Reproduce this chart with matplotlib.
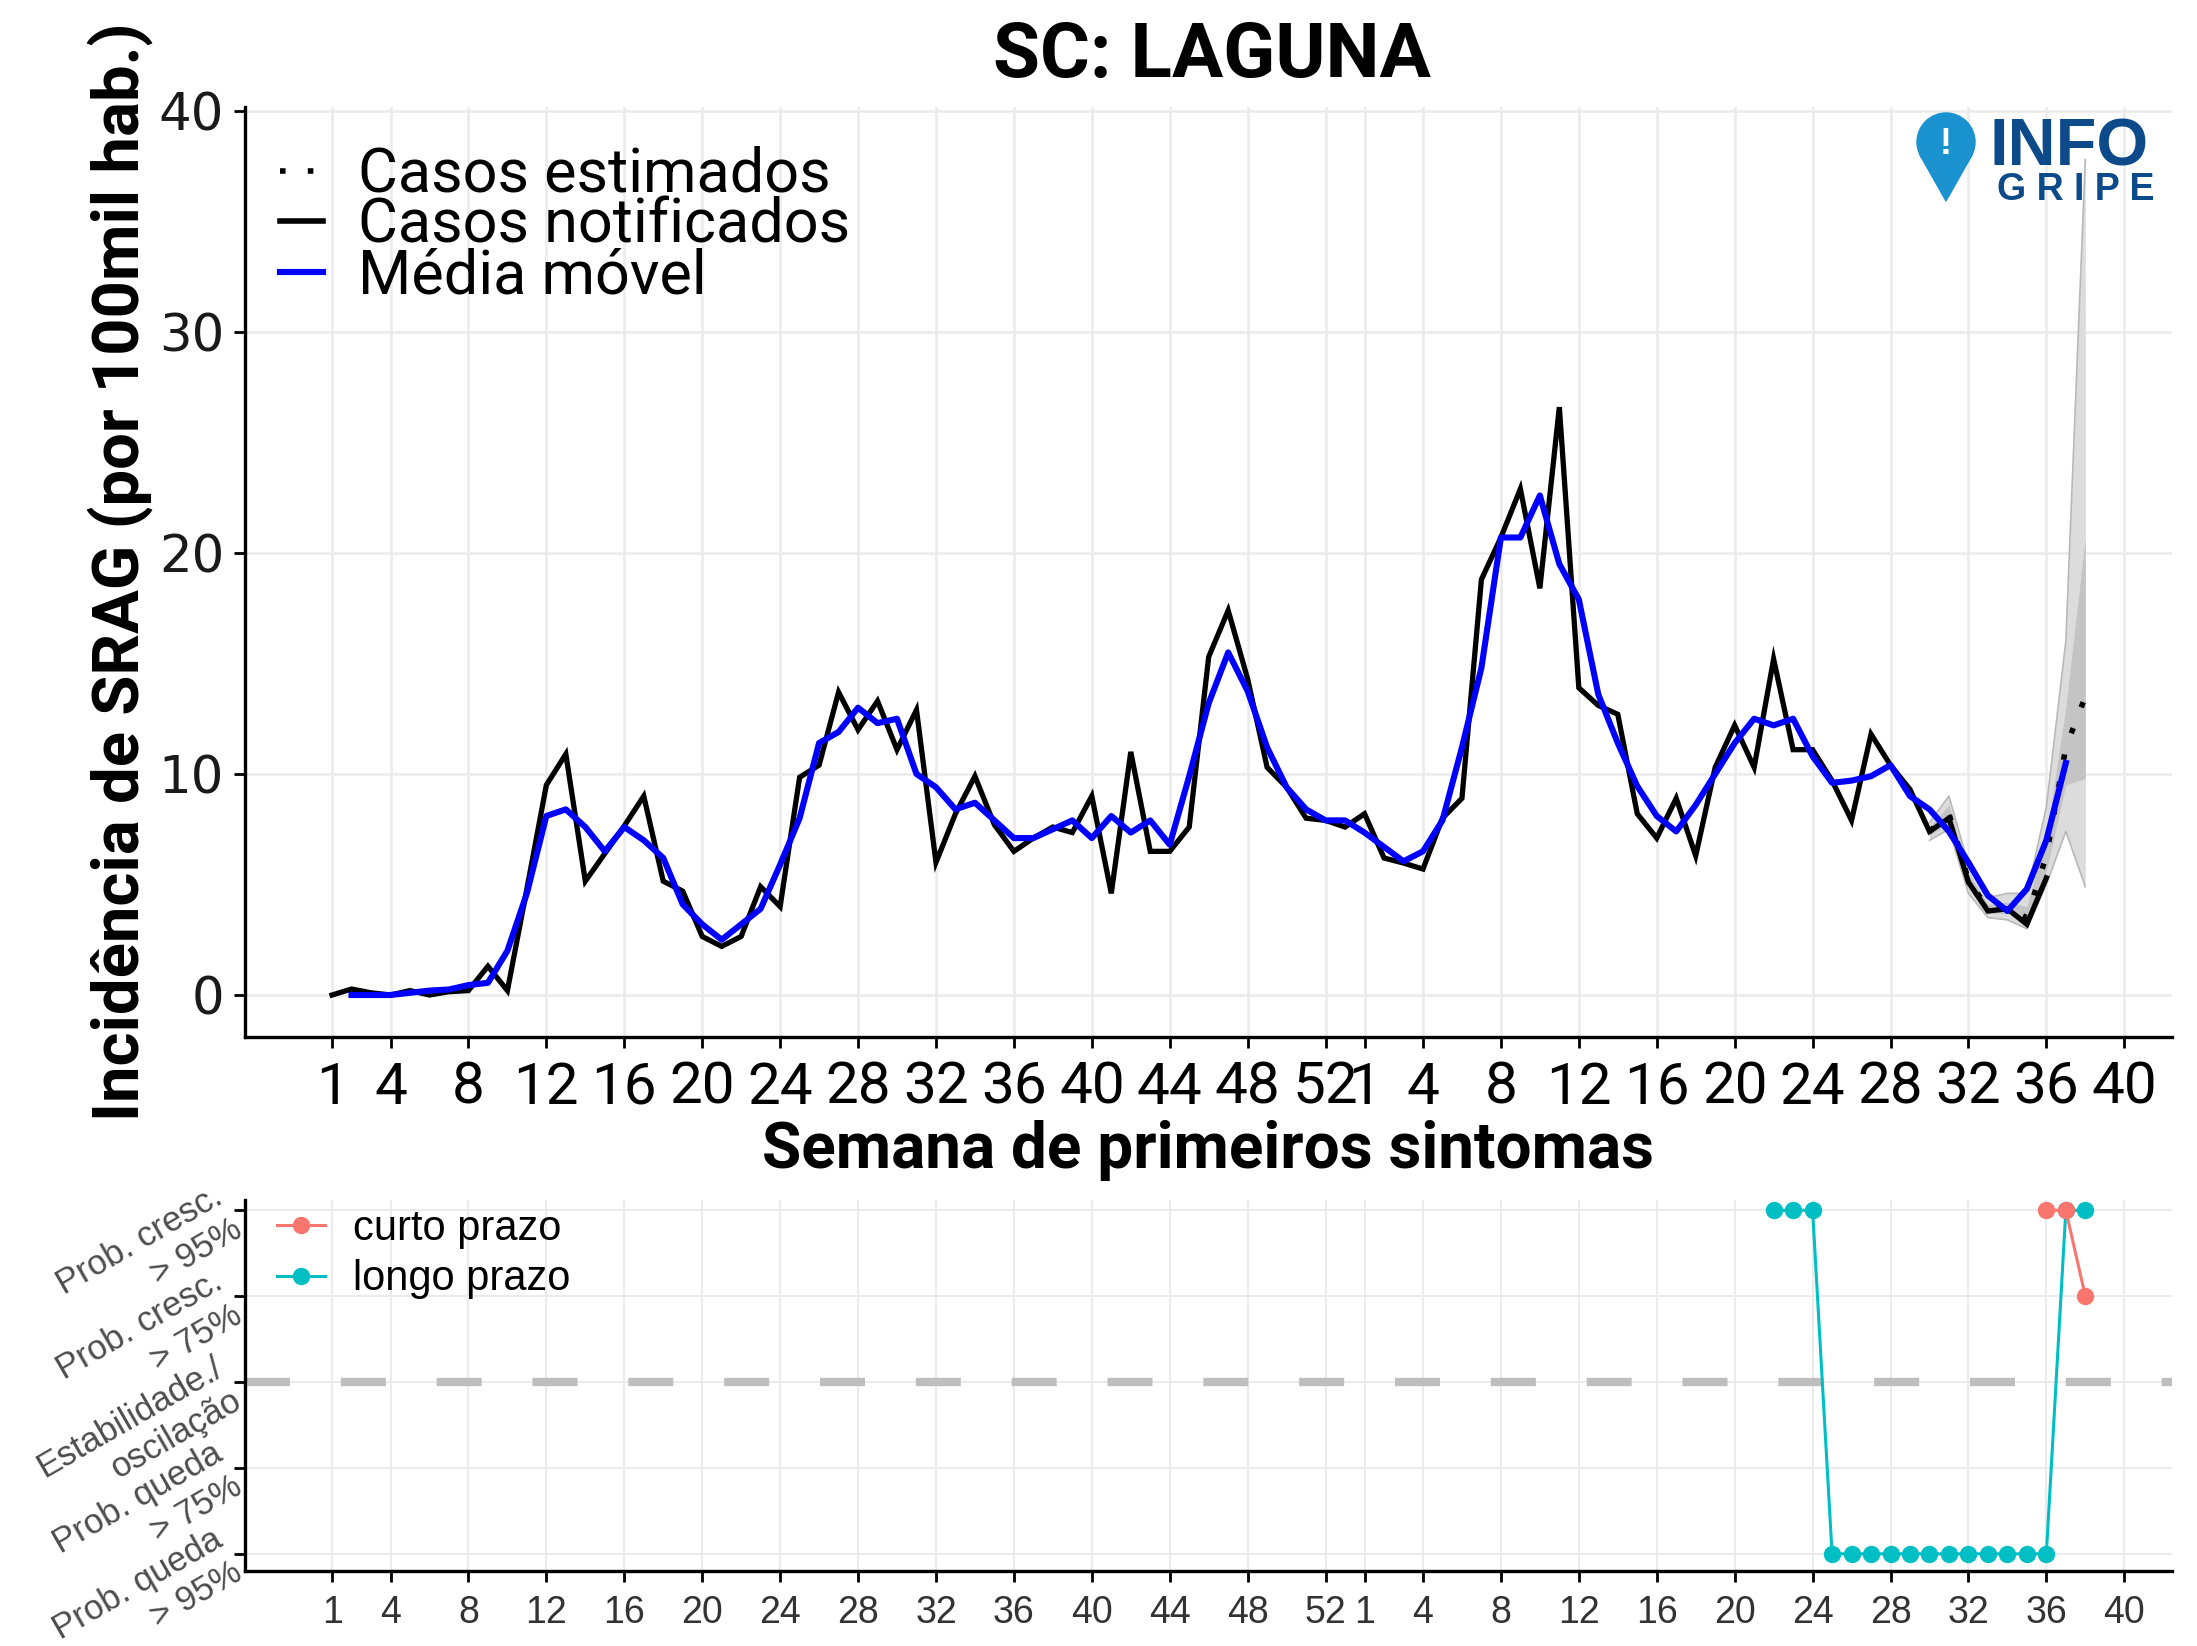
import matplotlib
matplotlib.use("Agg")
import matplotlib.pyplot as plt
from matplotlib.lines import Line2D
from matplotlib.patches import Circle, Polygon

W, H, DPI = 2197, 1646, 100

# ── DATA ──────────────────────────────────────────────────────────────────────
# week index: 1..53 -> weeks of the first year, 54.. -> second year (week = idx - 53)
sem_notif = list(range(1, 90))
casos_notif = [
    0.0, 0.27, 0.1, 0.0, 0.2, 0.0, 0.15, 0.2, 1.3, 0.2,
    4.8, 9.5, 10.9, 5.15, 6.4, 7.65, 9.0, 5.15, 4.7, 2.65,
    2.2, 2.65, 4.9, 4.0, 9.85, 10.4, 13.7, 12.0, 13.3, 11.1,
    12.9, 6.0, 8.2, 9.9, 7.7, 6.5, 7.1, 7.6, 7.35, 9.0,
    4.6, 11.0, 6.5, 6.5, 7.6, 15.3, 17.4, 14.3, 10.3, 9.4,
    8.0, 7.9, 7.6, 8.2, 6.2, 5.97, 5.7, 8.0, 8.9, 18.8,
    20.7, 22.9, 18.4, 26.6, 13.9, 13.1, 12.7, 8.2, 7.1, 8.9,
    6.3, 10.3, 12.2, 10.3, 15.2, 11.1, 11.1, 9.7, 7.9, 11.8,
    10.4, 9.3, 7.4, 8.0, 5.1, 3.8, 3.9, 3.2, 5.3,
]

sem_media = list(range(2, 91))
media_movel = [
    0.0, 0.0, 0.0, 0.1, 0.2, 0.25, 0.45, 0.55, 2.0,
    4.6, 8.1, 8.4, 7.6, 6.5, 7.6, 7.0, 6.2, 4.1, 3.2,
    2.5, 3.2, 3.9, 5.9, 8.0, 11.4, 11.9, 13.0, 12.3, 12.5,
    10.0, 9.4, 8.4, 8.7, 7.9, 7.1, 7.1, 7.5, 7.9, 7.1,
    8.1, 7.35, 7.9, 6.8, 9.9, 13.2, 15.5, 13.75, 11.2, 9.4,
    8.4, 7.9, 7.9, 7.35, 6.7, 6.05, 6.5, 7.9, 11.2, 14.8,
    20.7, 20.7, 22.6, 19.5, 17.9, 13.6, 11.4, 9.45, 8.1, 7.4,
    8.6, 10.0, 11.4, 12.5, 12.2, 12.5, 10.8, 9.6, 9.7, 9.9,
    10.4, 9.0, 8.4, 7.4, 6.0, 4.5, 3.8, 4.8, 7.0, 10.5,
]

sem_est = list(range(83, 92))
casos_est = [7.4, 8.2, 5.2, 3.9, 3.9, 3.5, 6.3, 11.2, 13.5]
ic95_inf = [7.0, 7.5, 4.6, 3.5, 3.4, 3.0, 5.0, 7.4, 4.9]
ic95_sup = [7.8, 9.0, 5.9, 4.4, 4.6, 4.6, 8.5, 16.0, 37.8]
ic50_inf = [7.2, 7.8, 4.9, 3.7, 3.7, 3.2, 5.6, 9.5, 9.8]
ic50_sup = [7.6, 8.6, 5.5, 4.1, 4.2, 4.0, 7.2, 13.0, 20.7]

tick_pos = [1, 4, 8, 12, 16, 20, 24, 28, 32, 36, 40, 44, 48, 52,
            54, 57, 61, 65, 69, 73, 77, 81, 85, 89, 93]
tick_lab = ["1", "4", "8", "12", "16", "20", "24", "28", "32", "36", "40", "44", "48", "52",
            "1", "4", "8", "12", "16", "20", "24", "28", "32", "36", "40"]

niveis = [2, 1, 0, -1, -2]
niveis_lab = ["Prob. cresc.\n> 95%", "Prob. cresc.\n> 75%", "Estabilidade./\noscilação",
              "Prob. queda\n> 75%", "Prob. queda\n> 95%"]

sem_longo = [75, 76, 77, 78, 79, 80, 81, 82, 83, 84, 85, 86, 87, 88, 89, 90, 91]
tend_longo = [2, 2, 2, -2, -2, -2, -2, -2, -2, -2, -2, -2, -2, -2, -2, 2, 2]
sem_curto = [89, 90, 91]
tend_curto = [2, 2, 1]

# ── STYLE ─────────────────────────────────────────────────────────────────────
c_grid = "#EBEBEB"
c_curto = "#F8766D"
c_longo = "#00BFC4"
XLIM = (-3.47, 95.45)


def px(x, y):
    """pixel (from top-left) -> figure fraction"""
    return x / W, 1 - y / H


fig = plt.figure(figsize=(W / DPI, H / DPI), dpi=DPI)

# ── TOP PANEL: incidence ─────────────────────────────────────────────────────
x0, y0 = px(245, 1037)
x1, y1 = px(2172, 106.5)
ax1 = fig.add_axes([x0, y0, x1 - x0, y1 - y0])
ax1.set_axisbelow(True)

ax1.fill_between(sem_est, ic95_inf, ic95_sup, color="#DCDCDC", lw=0, zorder=1)
ax1.plot(sem_est, ic95_sup, color="#B8B8B8", lw=1.2, zorder=1.1)
ax1.plot(sem_est, ic95_inf, color="#B8B8B8", lw=1.2, zorder=1.1)
ax1.fill_between(sem_est, ic50_inf, ic50_sup, color="#C4C4C4", lw=0, zorder=1.2)

ax1.plot(sem_notif, casos_notif, color="black", lw=3.8, zorder=3,
         solid_joinstyle="miter")
ax1.plot(sem_est, casos_est, color="black", lw=4, dashes=(1, 4), zorder=3.5)
ax1.plot(sem_media, media_movel, color="#0000FF", lw=4.4, zorder=4)

ax1.set_xlim(*XLIM)
ax1.set_ylim(-1.9, 40.2)
ax1.set_xticks(tick_pos, tick_lab)
ax1.set_yticks([0, 10, 20, 30, 40])
ax1.grid(color=c_grid, lw=1.8)
for s in ["top", "right"]:
    ax1.spines[s].set_visible(False)
for s in ["left", "bottom"]:
    ax1.spines[s].set_linewidth(2.4)
ax1.tick_params(axis="x", length=8, width=2, pad=9, labelsize=42, labelcolor="black")
ax1.tick_params(axis="y", length=8, width=2, pad=7, labelsize=37, labelcolor="#1a1a1a")
for lab in ax1.get_xticklabels():
    lab.set_family("Roboto")
for lab in ax1.get_yticklabels():
    lab.set_family("DejaVu Sans")

ax1.set_ylabel("Incidência de SRAG (por 100mil hab.)", family="Roboto",
               weight="bold", fontsize=47, labelpad=4)

leg1_handles = [
    Line2D([], [], color="black", lw=4, dashes=(1, 4)),
    Line2D([], [], color="black", lw=4),
    Line2D([], [], color="#0000FF", lw=4.4),
]
leg1 = ax1.legend(leg1_handles, ["Casos estimados", "Casos notificados", "Média móvel"],
                  loc="upper left", bbox_to_anchor=px(280, 146),
                  bbox_transform=fig.transFigure, frameon=False, borderpad=0,
                  borderaxespad=0, handlelength=0.7, handletextpad=0.58,
                  labelspacing=-0.12, prop={"family": "Roboto", "size": 44})

# InfoGripe mark, drawn under the data
pin_c = (1946 / DPI, (H - 142) / DPI)
ax1.add_patch(Circle(pin_c, 29 / DPI, color="#1A92D0", transform=fig.dpi_scale_trans,
                     clip_on=False, zorder=0.8))
ax1.add_patch(Polygon([(1920 / DPI, (H - 155) / DPI), (1972 / DPI, (H - 155) / DPI),
                       (1946 / DPI, (H - 201) / DPI)], closed=True, color="#1A92D0",
                      transform=fig.dpi_scale_trans, clip_on=False, zorder=0.8))
ax1.text(*px(1946, 144), "!", transform=fig.transFigure, ha="center", va="center",
         color="white", fontsize=26, weight="bold", family="Liberation Sans", zorder=0.9)
ax1.text(*px(1990, 165), "INFO", transform=fig.transFigure, ha="left", va="baseline",
         color="#0D4A8A", fontsize=48, weight="bold", family="Liberation Sans", zorder=0.9)
ax1.text(*px(1997, 200), "G R I P E", transform=fig.transFigure, ha="left", va="baseline",
         color="#0D4A8A", fontsize=27, weight="bold", family="Liberation Sans", zorder=0.9)

fig.text(*px(1212, 77), "SC: LAGUNA", ha="center", va="baseline",
         fontsize=55, weight="bold", family="Roboto")
fig.text(*px(1208, 1168), "Semana de primeiros sintomas", ha="center", va="baseline",
         fontsize=46, weight="bold", family="Roboto")

# ── BOTTOM PANEL: trend probabilities ────────────────────────────────────────
x0, y0 = px(245, 1571)
x1, y1 = px(2172, 1200)
ax2 = fig.add_axes([x0, y0, x1 - x0, y1 - y0])
ax2.set_axisbelow(True)

ax2.axhline(0, color="#BEBEBE", lw=6, dashes=(5.4, 6.1), zorder=1)
ax2.plot(sem_longo, tend_longo, color=c_longo, lw=2.2, marker="o", ms=11.5,
         zorder=3, label="longo prazo")
ax2.plot(sem_curto, tend_curto, color=c_curto, lw=2.2, marker="o", ms=11.5,
         zorder=4, label="curto prazo")

ax2.set_xlim(*XLIM)
ax2.set_ylim(-2.2, 2.12)
ax2.set_xticks(tick_pos, tick_lab)
ax2.set_yticks(niveis, niveis_lab)
ax2.grid(color=c_grid, lw=1.5)
for s in ["top", "right"]:
    ax2.spines[s].set_visible(False)
for s in ["left", "bottom"]:
    ax2.spines[s].set_linewidth(2.4)
ax2.tick_params(axis="x", length=8, width=2, pad=9, labelsize=27, labelcolor="#333333")
ax2.tick_params(axis="y", length=8, width=2, pad=3, labelsize=25, labelcolor="#4D4D4D")
for lab in ax2.get_xticklabels():
    lab.set_family("Liberation Sans")
for lab in ax2.get_yticklabels():
    lab.set_family("Liberation Sans")
    lab.set_rotation(30)
    lab.set_rotation_mode("anchor")
    lab.set_ha("right")
    lab.set_va("center")
    lab.set_multialignment("right")

h, l = ax2.get_legend_handles_labels()
ax2.legend(h[::-1], l[::-1], loc="upper left", bbox_to_anchor=px(277, 1209),
           bbox_transform=fig.transFigure, frameon=False, borderpad=0,
           borderaxespad=0, handlelength=1.15, handletextpad=0.67,
           labelspacing=0.25, prop={"family": "Liberation Sans", "size": 30})

fig.savefig("out.png", dpi=DPI)
